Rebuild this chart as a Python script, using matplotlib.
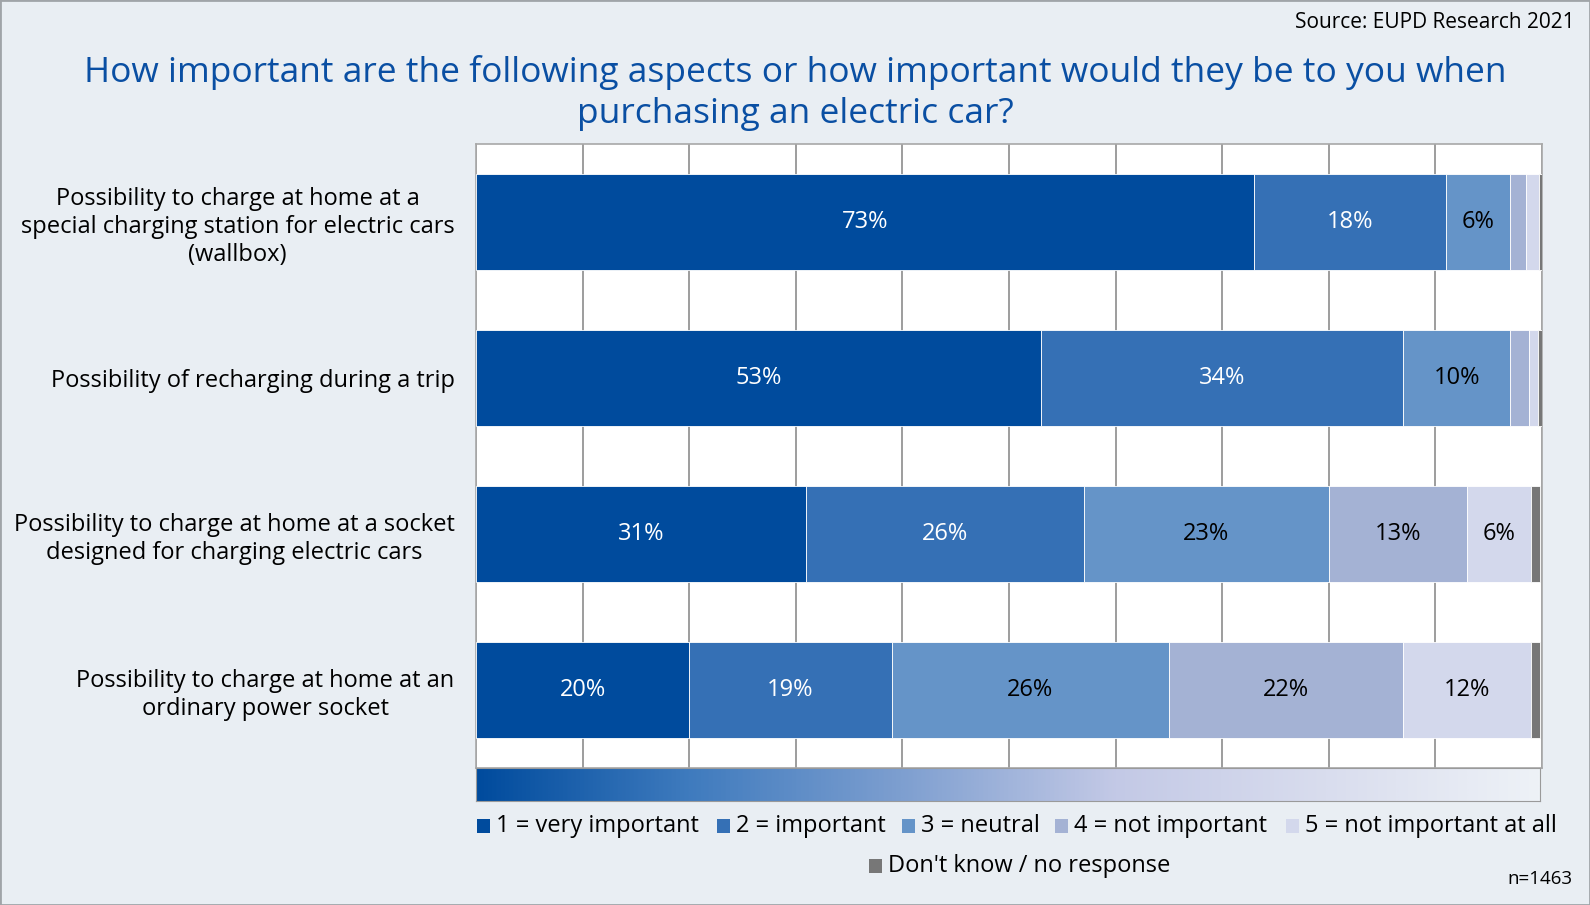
import numpy as np
import matplotlib.pyplot as plt
from matplotlib.colors import LinearSegmentedColormap
from matplotlib.patches import Rectangle

plt.rcParams['font.family'] = ['Open Sans', 'DejaVu Sans']

TITLE = ("How important are the following aspects or how important would they be to you when\n"
         "purchasing an electric car?")
CATEGORIES = [
    "Possibility to charge at home at a\nspecial charging station for electric cars\n(wallbox)",
    "Possibility of recharging during a trip",
    "Possibility to charge at home at a socket\ndesigned for charging electric cars",
    "Possibility to charge at home at an\nordinary power socket",
]
ANSWERS = ["1 = very important", "2 = important", "3 = neutral",
           "4 = not important", "5 = not important at all", "Don't know / no response"]

# shares in percent per category, one list per answer
very_important = [73, 53, 31, 20]
important = [18, 34, 26, 19]
neutral = [6, 10, 23, 26]
not_important = [1.5, 1.8, 13, 22]
not_at_all = [1.2, 0.8, 6, 12]
dont_know = [0.3, 0.4, 0.8, 0.8]
SERIES = [very_important, important, neutral, not_important, not_at_all, dont_know]

COLORS = ["#004B9D", "#3570B5", "#6594C8", "#A4B2D4", "#D3D8EC", "#777777"]
TEXT_COLORS = ["white", "white", "black", "black", "black", "black"]
BG = "#E9EEF3"
FS = 17

fig = plt.figure(figsize=(15.9, 9.05), dpi=100, facecolor=BG)
fig.patches.append(Rectangle((0, 0), 1, 1, transform=fig.transFigure, fill=False,
                             edgecolor="#A0A4A8", linewidth=2))

ax = fig.add_axes([0.2994, 0.1514, 0.6704, 0.6895])
ax.set_facecolor("white")

y = np.arange(len(CATEGORIES))
left = np.zeros(len(CATEGORIES))
for vals, color, tcolor in zip(SERIES, COLORS, TEXT_COLORS):
    vals = np.array(vals, dtype=float)
    ax.barh(y, vals, left=left, height=0.62, color=color,
            edgecolor="white", linewidth=0.6, zorder=3)
    for yi, l, v in zip(y, left, vals):
        if v >= 5:
            ax.text(l + v / 2, yi, f"{v:.0f}%", ha="center", va="center",
                    fontsize=FS, color=tcolor, zorder=4)
    left += vals

ax.set_xlim(0, 100)
ax.set_ylim(len(CATEGORIES) - 0.5, -0.5)
ax.set_xticks(np.arange(0, 101, 10))
ax.xaxis.grid(True, color="#8C8C8C", linewidth=1.2, zorder=0)
ax.set_axisbelow(True)
ax.tick_params(axis="x", length=0, labelbottom=False)
ax.tick_params(axis="y", length=0, pad=15.5)
ax.set_yticks(y)
ax.set_yticklabels(CATEGORIES, fontsize=FS, multialignment="center", linespacing=1.22)
for side in ["top", "right", "left", "bottom"]:
    ax.spines[side].set_color("#A8A8A8")
    ax.spines[side].set_linewidth(1.2)

# shaded strip under the chart, from very important to not important at all
gax = fig.add_axes([0.2994, 0.1149, 0.6692, 0.0365])
cmap = LinearSegmentedColormap.from_list(
    "importance", ["#004B9D", "#3F7BBE", "#7E9FD0", "#C3C9E6", "#D9DDEE", "#EEF2F7"])
gax.imshow(np.linspace(0, 1, 512)[None, :], aspect="auto", cmap=cmap)
gax.set_xticks([])
gax.set_yticks([])
for side in gax.spines.values():
    side.set_color("#9A9A9A")

# legend, five entries in a row and the last one centred below
W, H = 1590, 905
legend_pos = [(477, 826), (717, 826), (902, 826), (1055, 826), (1286, 826), (869, 866)]
for (px, py), label, color in zip(legend_pos, ANSWERS, COLORS):
    fig.patches.append(Rectangle(((px) / W, 1 - (py + 7) / H), 13 / W, 14 / H,
                                 transform=fig.transFigure, facecolor=color,
                                 edgecolor="none"))
    fig.text((px + 19) / W, 1 - py / H, label, fontsize=FS, va="center", ha="left")

fig.text(0.5, 1 - 93 / H, TITLE, ha="center", va="center", fontsize=25.5,
         color="#0A4FA3", linespacing=1.24)
fig.text(1575 / W, 1 - 23 / H, "Source: EUPD Research 2021", ha="right", va="center",
         fontsize=15)
fig.text(1572 / W, 1 - 879 / H, "n=1463", ha="right", va="center", fontsize=13.5)

fig.savefig("out.png", dpi=100, facecolor=BG)
